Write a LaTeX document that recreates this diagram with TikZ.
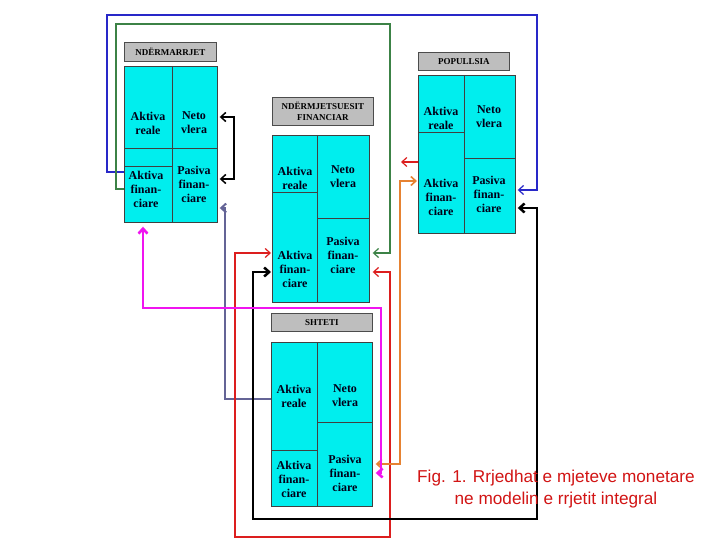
\documentclass[tikz,border=0pt]{standalone}
\usepackage{fontspec}
\setmainfont{Liberation Serif}
\newfontfamily\capfont{Liberation Sans}
\usetikzlibrary{arrows.meta}
\definecolor{cellcyan}{RGB}{0,238,238}
\definecolor{hdrgray}{RGB}{190,190,190}
\definecolor{lnblue}{RGB}{40,40,200}
\definecolor{lngreen}{RGB}{60,130,70}
\definecolor{lnslate}{RGB}{100,100,150}
\definecolor{lnmag}{RGB}{240,20,240}
\definecolor{lnred}{RGB}{220,30,30}
\definecolor{lnorange}{RGB}{230,130,50}
\definecolor{capred}{RGB}{210,20,20}
\tikzset{
  x=1pt, y=-1pt,
  outerbox/.style={draw=black!75, fill=cellcyan, line width=0.7pt, inner sep=0pt, anchor=north west},
  hdr/.style={draw=black!70, fill=hdrgray, line width=0.7pt, inner sep=0pt, anchor=north west, align=center,
    font=\bfseries\fontsize{9}{10.5}\selectfont},
  celltxt/.style={align=center, inner sep=0pt, font=\bfseries\fontsize{12}{14}\selectfont, text=black!90!blue},
  divline/.style={draw=black!75, line width=0.7pt},
  tip/.style={-{Straight Barb[length=5pt,width=9pt]}},
  tips/.style={{Straight Barb[length=5pt,width=9pt]}-{Straight Barb[length=5pt,width=9pt]}},
}
\begin{document}
\begin{tikzpicture}
\fill[white] (0,0) rectangle (720,540);
\useasboundingbox (0,0) rectangle (720,540);

% ---------- NDERMARRJET ----------
\node[hdr, minimum width=92, minimum height=19] (ndh) at (124,42) {NDËRMARRJET};
\node[outerbox, minimum width=93, minimum height=156] (nd) at (124,66) {};
\draw[divline] (172,66) -- (172,222);
\draw[divline] (124,148) -- (217,148);
\draw[divline] (124,166) -- (172,166);
\node[celltxt] (nd1) at (148,123) {Aktiva\\reale};
\node[celltxt] (nd2) at (194,123) {Neto\\vlera};
\node[celltxt] (nd3) at (146,189) {Aktiva\\finan-\\ciare};
\node[celltxt] (nd4) at (194,184) {Pasiva\\finan-\\ciare};

% ---------- NDERMJETSUESIT FINANCIAR ----------
\node[hdr, minimum width=101, minimum height=28] (nfh) at (272,97) {NDËRMJETSUESIT\\FINANCIAR};
\node[outerbox, minimum width=97, minimum height=167] (nf) at (272,135) {};
\draw[divline] (317,135) -- (317,302);
\draw[divline] (272,192) -- (317,192);
\draw[divline] (317,218) -- (369,218);
\node[celltxt] (nf1) at (295,178) {Aktiva\\reale};
\node[celltxt] (nf2) at (343,177) {Neto\\vlera};
\node[celltxt] (nf3) at (295,269) {Aktiva\\finan-\\ciare};
\node[celltxt] (nf4) at (343,255) {Pasiva\\finan-\\ciare};

% ---------- POPULLSIA ----------
\node[hdr, minimum width=91, minimum height=18] (poph) at (418,52) {POPULLSIA};
\node[outerbox, minimum width=97, minimum height=158] (pop) at (418,75) {};
\draw[divline] (464,75) -- (464,233);
\draw[divline] (418,132) -- (464,132);
\draw[divline] (464,158) -- (515,158);
\node[celltxt] (pop1) at (441,118) {Aktiva\\reale};
\node[celltxt] (pop2) at (489,117) {Neto\\vlera};
\node[celltxt] (pop3) at (441,197) {Aktiva\\finan-\\ciare};
\node[celltxt] (pop4) at (489,194) {Pasiva\\finan-\\ciare};

% ---------- SHTETI ----------
\node[hdr, minimum width=101, minimum height=18] (shh) at (271,313) {SHTETI};
\node[outerbox, minimum width=101, minimum height=164] (sh) at (271,342) {};
\draw[divline] (317,342) -- (317,506);
\draw[divline] (317,422) -- (372,422);
\draw[divline] (271,450) -- (317,450);
\node[celltxt] (sh1) at (294,396) {Aktiva\\reale};
\node[celltxt] (sh2) at (345,396) {Neto\\vlera};
\node[celltxt] (sh3) at (294,479) {Aktiva\\finan-\\ciare};
\node[celltxt] (sh4) at (345,473) {Pasiva\\finan-\\ciare};

% ---------- connectors ----------
% blue
\draw[lnblue, line width=1.2pt, tip] (nd.west |- 0,172) -- (107,172) |- (537,15) |- ([xshift=2pt]pop.east |- 0,190);
% green
\draw[lngreen, line width=1.2pt, tip] (nd.west |- 0,189) -- (116,189) |- (390,24) |- ([xshift=3pt]nf.east |- 0,253);
% black small loop at NDERMARRJET
\draw[black, line width=1.5pt, tips] ([xshift=2pt]nd.east |- 0,117) -| (234,179) -- ([xshift=2pt]nd.east |- 0,179);
% slate
\draw[lnslate, line width=2pt, tip] (sh.west |- 0,399) -| (225,208) -- ([xshift=2pt]nd.east |- 0,208);
% red loop at NF
\draw[lnred, line width=1.2pt, tips] ([xshift=3pt]nf.east |- 0,272) -| (390,537) -| (235,253) -- ([xshift=-1pt]nf.west |- 0,253);
% black thick loop
\draw[black, line width=2.5pt, tips] ([xshift=-1pt]nf.west |- 0,272) -| (253,519) -| (537,208) -- ([xshift=2pt]pop.east |- 0,208);
% orange
\draw[lnorange, line width=1.6pt, tips] ([xshift=3pt]sh.east |- 0,464) -| (400,181) -- ([xshift=-1pt]pop.west |- 0,181);
% magenta
\draw[lnmag, line width=2.6pt, tips] ([yshift=-4pt]nd.south -| 143,0) |- (381,308) |- ([xshift=3pt]sh.east |- 0,473);
% red short at POPULLSIA
\coordinate (redend) at (401,162);
\draw[lnred, line width=1.2pt, tip] (pop.west |- 0,162) -- (redend);

% ---------- caption ----------
\node[align=center, inner sep=0pt, text=capred, font=\capfont\fontsize{17.2}{22}\selectfont] (cap) at (556,489)
  {Fig. 1. Rrjedhat e mjeteve monetare\\ne modelin e rrjetit integral};
\end{tikzpicture}
\end{document}
